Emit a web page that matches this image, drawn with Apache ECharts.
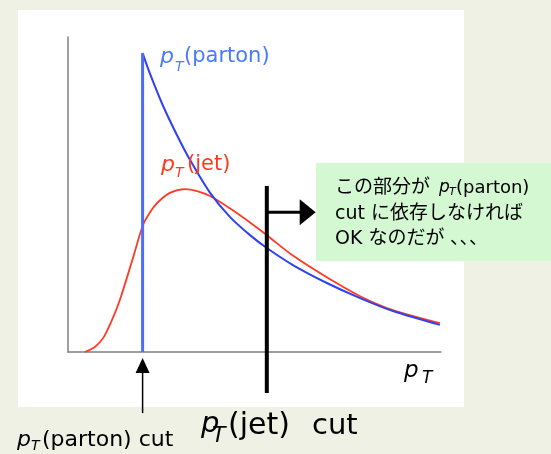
<!DOCTYPE html>
<html>
<head>
<meta charset="utf-8">
<script src="https://cdn.jsdelivr.net/npm/echarts@6/dist/echarts.min.js"></script>
<style>
  html, body { margin: 0; padding: 0; background: #eef1e3; }
  #chart { width: 551px; height: 454px; }
</style>
</head>
<body>
<div id="chart"></div>
<script>
// curves (x: pT, y: counts, both 0..100)
const partonX = [20.0, 22.0, 25.5, 29.2, 32.7, 38.1, 43.4, 48.8, 53.3, 60.3, 69.4, 78.3, 87.1, 99.7];
const partonY = [94.9, 88.3, 78.1, 68.9, 61.0, 50.5, 42.9, 37.1, 33.0, 27.6, 21.9, 17.1, 13.0, 8.6];
const jetX = [4.5, 7.2, 9.4, 11.8, 13.9, 17.4, 20.1, 22.0, 23.9, 27.3, 31.4, 34.6, 38.1, 43.4, 48.8, 53.4, 60.3, 69.4, 78.3, 87.1, 99.7];
const jetY = [0, 1.6, 4.4, 10.2, 16.5, 29.8, 40.3, 44.4, 47.3, 50.5, 51.7, 51.1, 49.5, 45.6, 41.1, 37.0, 30.6, 23.7, 17.7, 13.3, 9.2];

// cuts
const partonCutX = 20.0;
const jetCutX = 53.3;
const jetCutSpan = [-13.0, 52.7];
const arrowY = 44.4;
const arrowTipX = 66.4;
const partonArrowSpan = [-19.4, -1.9];

const latin = '"DejaVu Sans", "Noto Sans CJK JP", sans-serif';
const black = '#000';
const blueText = '#4a7aff';
const redText = '#ff3a1f';

function zip (xs, ys) {
  return xs.map((x, i) => [x, ys[i]]);
}

function label (text, x, y, size, color, italic) {
  return {
    type: 'text',
    x: x,
    y: y,
    z: 50,
    style: {
      text: text,
      fill: color,
      fontSize: size,
      fontFamily: latin,
      fontStyle: italic ? 'italic' : 'normal',
      align: 'left',
      verticalAlign: 'middle'
    }
  };
}

const chart = echarts.init(document.getElementById('chart'));

chart.setOption({
  animation: false,
  backgroundColor: '#eef1e3',
  grid: { left: 68, right: 110, top: 37, bottom: 102 },
  xAxis: {
    type: 'value', min: 0, max: 100,
    axisLine: { show: true, lineStyle: { color: '#808080', width: 1.5 } },
    axisTick: { show: false }, axisLabel: { show: false }, splitLine: { show: false }
  },
  yAxis: {
    type: 'value', min: 0, max: 100,
    axisLine: { show: true, lineStyle: { color: '#808080', width: 1.5 } },
    axisTick: { show: false }, axisLabel: { show: false }, splitLine: { show: false }
  },
  graphic: [
    { type: 'rect', z: -100, shape: { x: 18, y: 10, width: 446, height: 397 }, style: { fill: '#ffffff' } },
    { type: 'rect', z: 40, shape: { x: 316, y: 163, width: 235, height: 98 }, style: { fill: '#d4f9d2' } },

    // pT(parton)
    label('p', 160, 57, 22, blueText, true),
    label('T', 175, 67, 14, blueText, true),
    label('(parton)', 184, 57, 21, blueText, false),

    // pT(jet)
    label('p', 161, 165, 22, redText, true),
    label('T', 175, 173, 14, redText, true),
    label('(jet)', 187, 165, 21, redText, false),

    // axis name
    label('p', 404, 371, 23, black, true),
    label('T', 422, 379, 17, black, true),

    // green note
    label('この部分が', 335, 188, 19, black, false),
    label('p', 439, 188, 17, black, true),
    label('T', 449, 192, 11, black, true),
    label('(parton)', 456, 188, 18, black, false),
    label('cut に依存しなければ', 335, 214, 19, black, false),
    label('OK なのだが', 335, 239, 19, black, false),
    label('、、、', 450, 239, 19, black, false),

    // bottom labels
    label('p', 17, 440, 22, black, true),
    label('T', 31, 446, 14, black, true),
    label('(parton) cut', 42, 440, 22, black, false),

    label('p', 201, 424, 29, black, true),
    label('T', 212, 436, 22, black, true),
    label('(jet)', 228, 426, 30, black, false),
    label('cut', 312, 426, 29, black, false)
  ],
  series: [
    {
      name: 'pT(jet)',
      type: 'line',
      data: zip(jetX, jetY),
      smooth: 0.3,
      symbol: 'none',
      z: 3,
      lineStyle: { color: '#ff3b26', width: 1.8 }
    },
    {
      name: 'pT(parton)',
      type: 'line',
      data: zip(partonX, partonY),
      smooth: 0.3,
      symbol: 'none',
      z: 4,
      lineStyle: { color: '#3042f0', width: 2 }
    },
    {
      name: 'parton cut edge',
      type: 'line',
      data: [[partonCutX, 0], [partonCutX, partonY[0]]],
      symbol: 'none',
      z: 5,
      lineStyle: { color: '#4d6dff', width: 3 }
    },
    {
      name: 'cuts',
      type: 'custom',
      clip: false,
      z: 6,
      data: [[jetCutX, arrowY]],
      renderItem: function (params, api) {
        const top = api.coord([jetCutX, jetCutSpan[1]]);
        const bot = api.coord([jetCutX, jetCutSpan[0]]);
        const a0 = api.coord([jetCutX, arrowY]);
        const a1 = api.coord([arrowTipX, arrowY]);
        const pTop = api.coord([partonCutX, partonArrowSpan[1]]);
        const pBot = api.coord([partonCutX, partonArrowSpan[0]]);
        return {
          type: 'group',
          children: [
            { type: 'line', shape: { x1: top[0], y1: top[1], x2: bot[0], y2: bot[1] }, style: { stroke: black, lineWidth: 4 } },
            { type: 'line', shape: { x1: a0[0], y1: a0[1], x2: a1[0] - 14, y2: a1[1] }, style: { stroke: black, lineWidth: 3 } },
            { type: 'polygon', shape: { points: [[a1[0], a1[1]], [a1[0] - 16, a1[1] - 13], [a1[0] - 16, a1[1] + 13]] }, style: { fill: black } },
            { type: 'line', shape: { x1: pBot[0], y1: pBot[1], x2: pTop[0], y2: pTop[1] + 12 }, style: { stroke: black, lineWidth: 1.5 } },
            { type: 'polygon', shape: { points: [[pTop[0], pTop[1]], [pTop[0] - 7, pTop[1] + 15], [pTop[0] + 7, pTop[1] + 15]] }, style: { fill: black } }
          ]
        };
      }
    }
  ]
});
</script>
</body>
</html>
